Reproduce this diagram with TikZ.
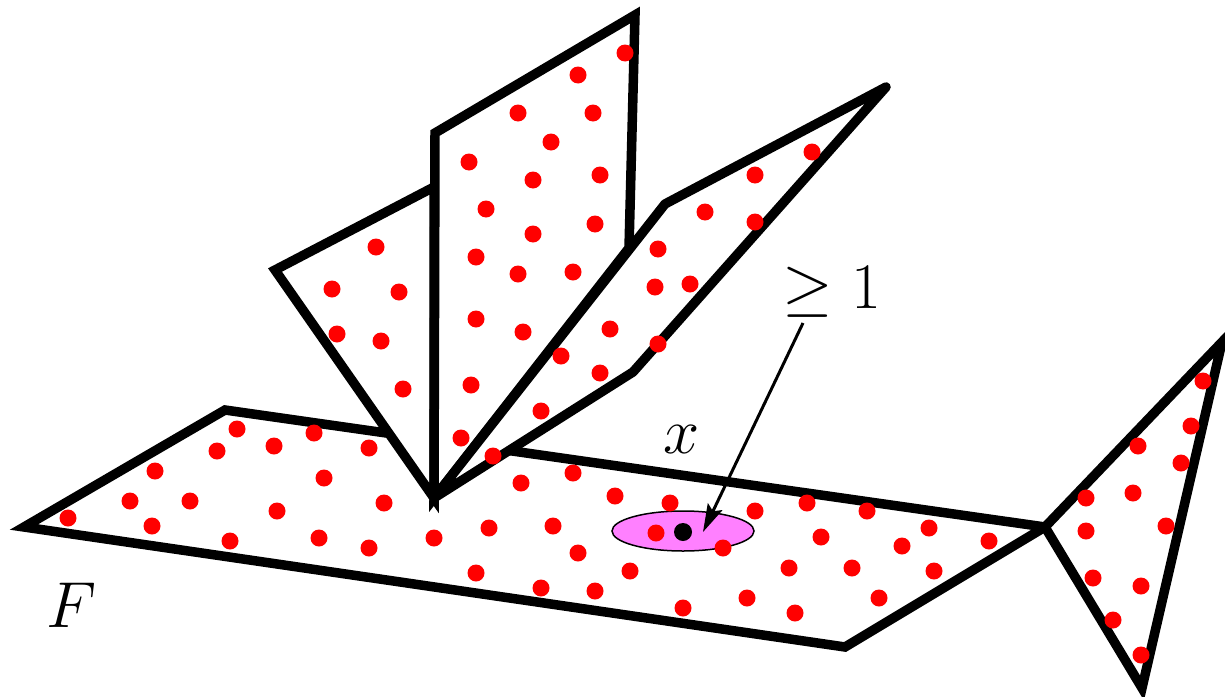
\documentclass[tikz,border=0pt]{standalone}
\usetikzlibrary{arrows.meta}
\definecolor{dotred}{RGB}{255,0,0}
\definecolor{pinkfill}{RGB}{255,128,255}
\newcommand{\bigmath}[1]{\scalebox{3.76}{\LARGE$#1$}}
\tikzset{
  plane/.style={draw=black, fill=white, line width=9.5pt, line join=miter, miter limit=20},
  reddot/.style={fill=dotred},
  lbl/.style={inner sep=0pt},
  pointer/.style={line width=3pt, -{Stealth[length=28pt, width=16pt, inset=5pt]}}
}
\begin{document}
\begin{tikzpicture}[x=1pt, y=-1pt]
\useasboundingbox (0,0) rectangle (1225,696);
% main plane F
\draw[plane] (24,527) -- (225,410) -- (1045,527) -- (845,647) -- cycle;
% right triangle
\draw[plane] (1045,527) -- (1222,342) -- (1142,688) -- cycle;
% left wing
\draw[plane] (434,498) -- (275,270) -- (434,187) -- cycle;
% middle plane
\draw[plane] (434,498) -- (435,133) -- (635,15) -- (629,248) -- cycle;
% right wing
\draw[plane, line join=round] (434,498) -- (665,204) -- (886,87) -- (633,372) -- cycle;
% ellipse neighbourhood
\draw[fill=pinkfill, line width=1.5pt] (683,531) ellipse [x radius=71, y radius=20];
% red dots
\foreach \p in {
 (68,518),(130,501),(155,471),(152,526),(190,501),(217,451),(237,429),(230,541),
 (274,446),(277,511),(314,433),(324,478),(319,538),(369,548),(384,503),(369,448),
 (434,538),(489,528),(553,526),(521,483),(573,473),(615,496),(670,503),(755,511),
 (807,503),(656,533),(723,548),(821,537),(578,553),(476,573),(630,571),(789,568),
 (541,588),(595,591),(683,608),(747,598),(795,613),(867,511),(929,528),
 (902,546),(989,541),(852,568),(934,571),(879,598),
 (461,438),(493,456),(541,411),(471,385),(403,389),
 (376,247),(332,289),(399,292),(337,334),(381,341),
 (625,53),(578,75),(518,113),(593,113),(551,142),(469,162),(533,180),(600,175),
 (486,209),(595,224),(533,234),(476,257),(518,274),(573,272),(476,319),(523,332),
 (812,152),(755,175),(705,212),(755,222),(658,249),(655,287),(690,284),(610,329),
 (658,344),(561,356),(600,373),
 (1203,381),(1191,426),(1138,446),(1181,463),(1086,498),(1133,493),(1166,526),
 (1086,531),(1093,578),(1141,586),(1113,620),(1141,655)}
 \fill[reddot] \p circle[radius=8.5];
% the point x
\fill[black] (683,532) circle[radius=9];
% labels
\node[lbl, anchor=base] (xlab) at (682,453) {\bigmath{x}};
\node[lbl, anchor=base] (Flab) at (72,627) {\bigmath{F}};
\node[lbl, anchor=base] (geq) at (832,308) {\bigmath{\geq 1}};
% arrow
\coordinate (arrs) at (803,323);
\coordinate (arre) at (703,532);
\draw[pointer] (arrs) -- (arre);
\end{tikzpicture}
\end{document}
